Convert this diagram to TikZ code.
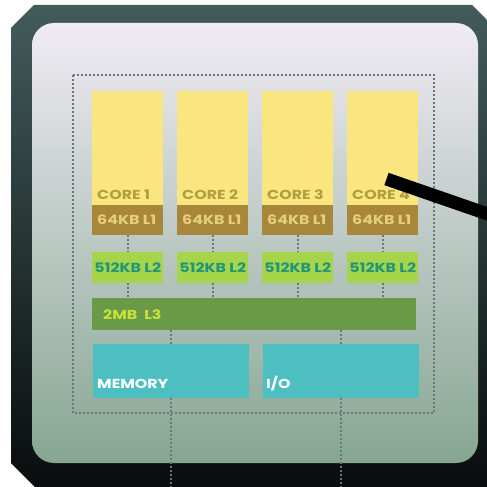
\documentclass[tikz,border=0pt]{standalone}
\usepackage{fontspec}
\newfontfamily\popw{Poppins}[FakeStretch=1.22]
\definecolor{chipTop}{HTML}{425C5B}
\definecolor{chipMid}{HTML}{2C403F}
\definecolor{chipBot}{HTML}{080B0B}
\definecolor{panTop}{HTML}{F0EBF4}
\definecolor{panMid}{HTML}{C6CED1}
\definecolor{panBot}{HTML}{86A692}
\definecolor{coreY}{HTML}{FAE67E}
\definecolor{coreTxt}{HTML}{B39C42}
\definecolor{lOne}{HTML}{A8873A}
\definecolor{lOneTxt}{HTML}{E6CF7A}
\definecolor{lTwo}{HTML}{A6D44A}
\definecolor{lTwoTxt}{HTML}{21957A}
\definecolor{lThree}{HTML}{6A9948}
\definecolor{lThreeTxt}{HTML}{C6E33C}
\definecolor{ioC}{HTML}{4DBFC1}
\definecolor{dotC}{HTML}{6E747B}
\begin{document}
\begin{tikzpicture}[x=1pt,y=-1pt,
  blk/.style={rectangle, draw=none, inner sep=0pt, anchor=north west, minimum width=71pt},
  corebox/.style={blk, fill=coreY, minimum height=114pt},
  lonebox/.style={blk, fill=lOne, minimum height=30pt},
  ltwobox/.style={blk, fill=lTwo, minimum height=31pt},
  txt/.style={inner sep=0pt, font=\popw\bfseries\fontsize{13}{15}\selectfont},
  dotline/.style={draw=dotC, line width=1.6pt, dash pattern=on 1.6pt off 2.4pt}]
\useasboundingbox (0,0) rectangle (487,487);
\clip (0,0) rectangle (487,487);
% chip body
\shade[top color=chipTop, middle color=chipMid, bottom color=chipBot]
  (11,28) -- (34,5) -- (472,5) -- (495,28) -- (495,495) -- (43,495) -- (11,463) -- cycle;
% die panel
\shade[rounded corners=22pt, top color=panTop, middle color=panMid, bottom color=panBot]
  (32,23) rectangle (478,463);
% dotted frame
\draw[dotline] (73,75) rectangle (434,413);
% L3
\node[blk, fill=lThree, minimum width=324pt, minimum height=32pt] (l3) at (92,298) {};
\node[txt, text=lThreeTxt, anchor=west] (l3t) at (103,315) {2MB\hspace{7pt}L3};
% cores
\foreach \i/\x in {1/92,2/177,3/262,4/347}{
  \node[corebox] (core\i) at (\x,91) {};
  \node[txt, text=coreTxt, anchor=base west] (coret\i) at (\x+5,199) {CORE \i};
  \node[lonebox] (lone\i) at (\x,205) {};
  \node[txt, text=lOneTxt, anchor=west] (lonet\i) at (\x+5,220) {64KB L1};
  \node[ltwobox] (ltwo\i) at (\x,252) {};
  \node[txt, text=lTwoTxt] (ltwot\i) at (ltwo\i.center) {512KB L2};
  \draw[dotline] (lone\i.south) -- (ltwo\i.north);
  \draw[dotline] (ltwo\i.south) -- (l3.north -| ltwo\i.south);
}
% memory and I/O
\node[blk, fill=ioC, minimum width=156pt, minimum height=54pt] (mem) at (93,344) {};
\node[blk, fill=ioC, minimum width=156pt, minimum height=54pt] (io) at (263,344) {};
\node[txt, text=white, anchor=base west] (memt) at (97,388) {MEMORY};
\node[txt, text=white, anchor=base west] (iot) at (266,388) {I/O};
\coordinate (membot) at (mem.south |- 0,490);
\coordinate (iobot) at (io.south |- 0,490);
\draw[dotline] (l3.south -| mem.north) -- (mem.north);
\draw[dotline] (l3.south -| io.north) -- (io.north);
\draw[dotline] (mem.south) -- (membot);
\draw[dotline] (io.south) -- (iobot);
% pointer
\coordinate (ptr) at (386.5,179);
\coordinate (ptrend) at (505,220);
\draw[black, line width=13pt] (ptr) -- (ptrend);
\end{tikzpicture}
\end{document}
